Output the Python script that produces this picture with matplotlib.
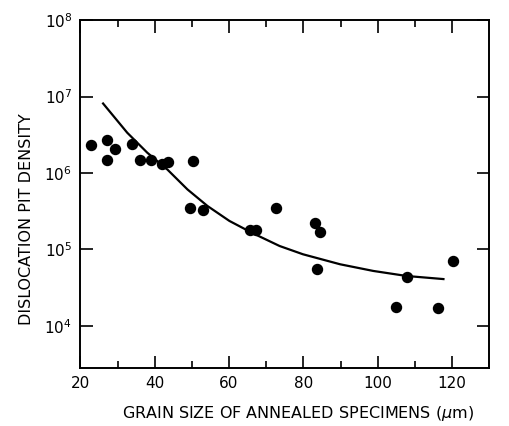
import matplotlib
matplotlib.use("Agg")
from matplotlib import pyplot as plt
from matplotlib.ticker import FixedLocator, NullLocator, FixedFormatter

# measured points (grain size in um, pit density)
grain = [22.8, 27.1, 27.1, 29.2, 34.0, 36.1, 39.0, 42.0, 43.7, 50.2, 49.4, 53.1,
         65.6, 67.2, 72.6, 83.1, 84.6, 83.7, 104.9, 107.9, 116.1, 120.2]
density = [2.3e6, 2.67e6, 1.49e6, 2.04e6, 2.37e6, 1.46e6, 1.46e6, 1.32e6, 1.39e6, 1.45e6,
           3.45e5, 3.32e5, 1.81e5, 1.81e5, 3.45e5, 2.19e5, 1.71e5, 5.6e4, 1.75e4, 4.4e4,
           1.72e4, 7.0e4]

# fitted curve
fit_x = [26.1, 32.6, 38.0, 43.4, 48.8, 54.2, 60.1, 66.4, 73.6, 79.9, 89.9, 98.8, 107.8, 117.7]
fit_y = [8.1e6, 3.36e6, 1.84e6, 1.11e6, 6.1e5, 3.7e5, 2.36e5, 1.63e5, 1.11e5, 8.65e4,
         6.4e4, 5.24e4, 4.5e4, 4.1e4]

yticks = [1e4, 1e5, 1e6, 1e7, 1e8]
ytick_labels = ['10$^4$', '10$^5$', '10$^6$', '10$^7$', '10$^8$']
xticks = [20, 40, 60, 80, 100, 120]

fig = plt.figure(figsize=(5.09, 4.26), dpi=100)
ax = fig.add_axes([0.158, 0.137, 0.803, 0.816])

ax.plot(fit_x, fit_y, color='black', linewidth=1.6)
ax.plot(grain, density, 'o', color='black', markersize=7.2)

ax.set_yscale('log')
ax.set_xlim(20, 130)
ax.set_ylim(2.85e3, 1e8)

ax.yaxis.set_major_locator(FixedLocator(yticks))
ax.yaxis.set_major_formatter(FixedFormatter(ytick_labels))
ax.yaxis.set_minor_locator(NullLocator())
ax.set_xticks(xticks)
ax.set_xticks([30, 50, 70, 90, 110], minor=True)

ax.tick_params(which='both', direction='in', top=True, right=True, width=1.2,
               labelsize=11, pad=6)
ax.tick_params(which='major', length=9)
ax.tick_params(which='minor', length=5)
for s in ax.spines.values():
    s.set_linewidth(1.4)

fig.text(0.052, 0.485, 'DISLOCATION PIT DENSITY', rotation=90, ha='center', va='center',
         fontsize=11.5)
fig.text(0.585, 0.03, 'GRAIN SIZE OF ANNEALED SPECIMENS ($\\mu$m)', ha='center',
         va='center', fontsize=11.5)

fig.savefig('out.png', dpi=100)
